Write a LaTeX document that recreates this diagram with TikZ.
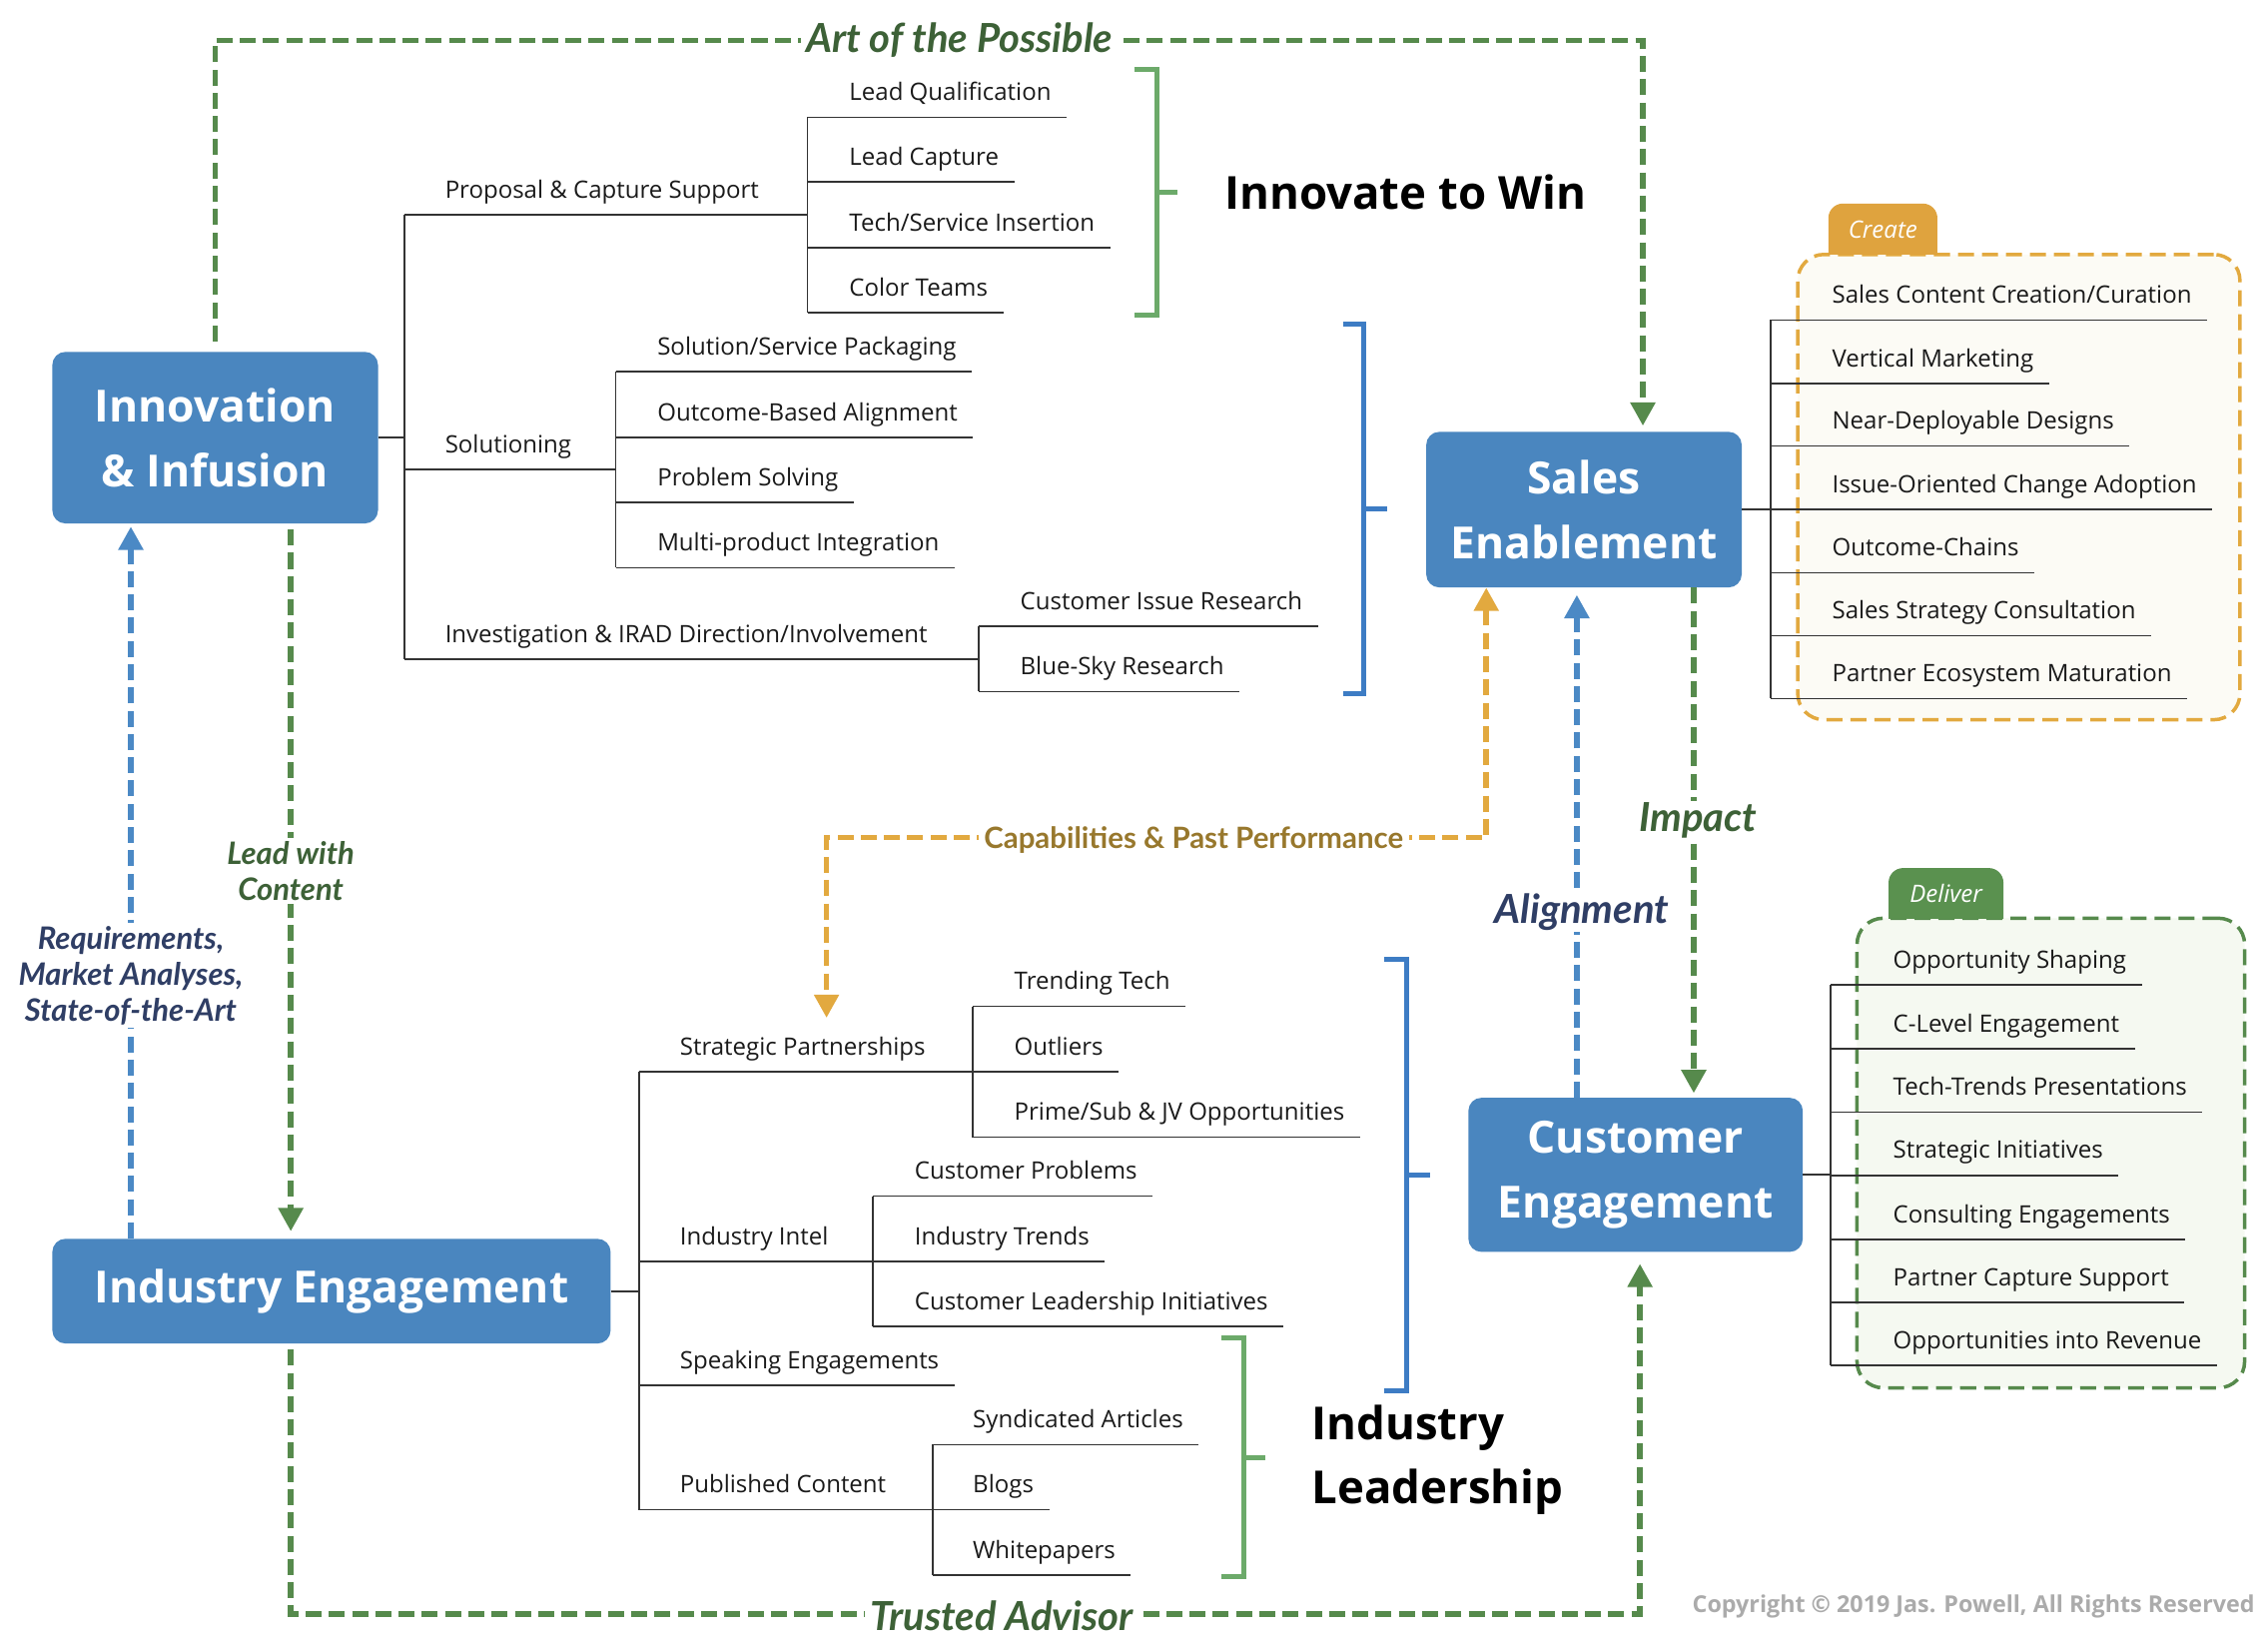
\documentclass[tikz,border=0pt]{standalone}
\usepackage{fontspec}
\setmainfont{Open Sans}
\newfontfamily\lblfont{Lato}
\usetikzlibrary{arrows.meta,calc}
\definecolor{boxblue}{HTML}{4A86BF}
\definecolor{conblue}{HTML}{4B89C5}
\definecolor{congreen}{HTML}{568A4C}
\definecolor{conorange}{HTML}{E2A93F}
\definecolor{lblgreen}{HTML}{3D6137}
\definecolor{lblnavy}{HTML}{2F3E65}
\definecolor{lblgold}{HTML}{98782D}
\definecolor{brgreen}{HTML}{6CAA6A}
\definecolor{brblue}{HTML}{3D7CC4}
\definecolor{treegray}{HTML}{333333}
\definecolor{tabgold}{HTML}{DFA33E}
\definecolor{tabgreen}{HTML}{5A914F}
\definecolor{panelcream}{HTML}{FCFBF5}
\definecolor{panelgreen}{HTML}{F5F9F1}
\definecolor{copygray}{HTML}{ABABAB}
\definecolor{txtblack}{HTML}{1A1A1A}

\newcommand\leafitem[5]{%
  \coordinate (#1-l) at (#2,#3);
  \node[leaf] (#1) at (#4,#3-11.5) {#5};
  \draw[tree] (#1-l) -- ($(#1-l -| #1.east)+(10.5,0)$);
}
\newcommand\branchitem[6]{%
  \coordinate (#1-l) at (#2,#3);
  \coordinate (#1-r) at (#6,#3);
  \node[leaf] (#1) at (#4,#3-11.5) {#5};
  \draw[tree] (#1-l) -- (#1-r);
}

\tikzset{
  box/.style={fill=boxblue, rounded corners=9pt, text=white, align=center, inner sep=0pt,
    font=\bfseries\fontsize{30.5}{44.5}\selectfont},
  leaf/.style={anchor=base west, inner sep=0pt, text=txtblack, font=\fontsize{16.5}{20}\selectfont},
  tree/.style={line width=1.1pt, draw=treegray},
  conn/.style={line width=3.8pt, dash pattern=on 11pt off 5pt},
  tipx/.tip={Triangle[width=16.5pt,length=16pt]},
  lbl/.style={font=\lblfont\bfseries\itshape\fontsize{27.5}{32}\selectfont, inner xsep=4pt, inner ysep=1pt, fill=white},
  smlbl/.style={font=\lblfont\bfseries\itshape\fontsize{21.3}{24.8}\selectfont, inner xsep=4pt, inner ysep=2pt, fill=white, align=center},
  bracket/.style={line width=3.5pt},
  bigtxt/.style={font=\bfseries\fontsize{31.3}{44.5}\selectfont, inner sep=0pt, align=left, text=black},
  panel/.style={rounded corners=18pt, line width=2.4pt, dash pattern=on 11pt off 5.5pt, inner sep=0pt},
  tabtxt/.style={text=white, font=\itshape\fontsize{16.5}{20}\selectfont, inner sep=0pt}
}

\begin{document}
\begin{tikzpicture}[x=1pt,y=-1pt]
\useasboundingbox (0,0) rectangle (1560,1132);

% ---------- panels ----------
\node[panel, draw=conorange, fill=panelcream, minimum width=304.2pt, minimum height=320pt] (createbox) at (1388.6,335) {};
\begin{scope}
  \clip (1250,130) rectangle (1340,175);
  \fill[tabgold, rounded corners=10pt] (1257.6,140) rectangle (1332.6,195);
\end{scope}
\node[tabtxt] (createtab) at (1295.1,158) {Create};

\node[panel, draw=congreen, fill=panelgreen, minimum width=266.6pt, minimum height=323pt] (deliverbox) at (1410.6,793) {};
\begin{scope}
  \clip (1290,590) rectangle (1390,631.5);
  \fill[tabgreen, rounded corners=10pt] (1299,597) rectangle (1378,650);
\end{scope}
\node[tabtxt] (delivertab) at (1338.5,614.5) {Deliver};

% ---------- main boxes ----------
\node[box, minimum width=224pt, minimum height=118pt] (innov) at (148,301) {Innovation\\\& Infusion};
\node[box, minimum width=217pt, minimum height=107pt] (sales) at (1089.5,350.5) {Sales\\Enablement};
\node[box, minimum width=230pt, minimum height=106pt] (cust) at (1125,808) {Customer\\Engagement};
\node[box, minimum width=384pt, minimum height=72pt] (indeng) at (228,888) {Industry Engagement};

% ---------- Innovation tree ----------
\coordinate (ij) at (278,301);
\draw[tree] (innov.east) -- (ij);
\branchitem{prop}{278}{147.6}{306}{Proposal \& Capture Support}{555.5}
\leafitem{lq}{555.5}{80.7}{584}{Lead Qualification}
\leafitem{lc}{555.5}{125.2}{584}{Lead Capture}
\leafitem{tsi}{555.5}{170.3}{584}{Tech/Service Insertion}
\leafitem{ct}{555.5}{215.1}{584}{Color Teams}
\draw[tree] (lq-l) -- (ct-l);

\branchitem{sol}{278}{323}{306}{Solutioning}{423.6}
\leafitem{ssp}{423.6}{255.5}{452}{Solution/Service Packaging}
\leafitem{oba}{423.6}{300.9}{452}{Outcome-Based Alignment}
\leafitem{ps}{423.6}{345.7}{452}{Problem Solving}
\leafitem{mpi}{423.6}{390.4}{452}{Multi-product Integration}
\draw[tree] (ssp-l) -- (mpi-l);

\branchitem{inv}{278}{453.5}{306}{Investigation \& IRAD Direction/Involvement}{673.2}
\leafitem{cir}{673.2}{430.8}{701.6}{Customer Issue Research}
\leafitem{bsr}{673.2}{475.6}{701.6}{Blue-Sky Research}
\draw[tree] (cir-l) -- (bsr-l);
\draw[tree] (prop-l) -- (inv-l);

% brackets top
\draw[bracket, brgreen] (780,48) -- (796,48) -- (796,217) -- (780,217);
\draw[bracket, brgreen] (796,132.5) -- (810,132.5);
\node[bigtxt, anchor=west] (itw) at (842,132) {Innovate to Win};
\draw[bracket, brblue] (924,223) -- (938,223) -- (938,477) -- (924,477);
\draw[bracket, brblue] (938,350) -- (954,350);

% ---------- Sales tree ----------
\coordinate (sj) at (1217.7,350.5);
\draw[tree] (sales.east) -- (sj);
\leafitem{s1}{1217.7}{220.1}{1260}{Sales Content Creation/Curation}
\leafitem{s2}{1217.7}{263.6}{1260}{Vertical Marketing}
\leafitem{s3}{1217.7}{306.7}{1260}{Near-Deployable Designs}
\leafitem{s4}{1217.7}{350.4}{1260}{Issue-Oriented Change Adoption}
\leafitem{s5}{1217.7}{393.9}{1260}{Outcome-Chains}
\leafitem{s6}{1217.7}{437.3}{1260}{Sales Strategy Consultation}
\leafitem{s7}{1217.7}{480.4}{1260}{Partner Ecosystem Maturation}
\draw[tree] (s1-l) -- (s7-l);

% ---------- Customer tree ----------
\coordinate (cj) at (1259.3,808);
\draw[tree] (cust.east) -- (cj);
\leafitem{c1}{1259.3}{677.4}{1302}{Opportunity Shaping}
\leafitem{c2}{1259.3}{721.1}{1302}{C-Level Engagement}
\leafitem{c3}{1259.3}{764.9}{1302}{Tech-Trends Presentations}
\leafitem{c4}{1259.3}{808.3}{1302}{Strategic Initiatives}
\leafitem{c5}{1259.3}{852.4}{1302}{Consulting Engagements}
\leafitem{c6}{1259.3}{895.8}{1302}{Partner Capture Support}
\leafitem{c7}{1259.3}{939.2}{1302}{Opportunities into Revenue}
\draw[tree] (c1-l) -- (c7-l);

% ---------- Industry tree ----------
\coordinate (dj) at (439.6,888);
\draw[tree] (indeng.east) -- (dj);
\branchitem{strat}{439.6}{737.1}{467.5}{Strategic Partnerships}{668.9}
\leafitem{tt}{668.9}{692.2}{697.5}{Trending Tech}
\leafitem{outl}{668.9}{737.1}{697.5}{Outliers}
\leafitem{psj}{668.9}{782.1}{697.5}{Prime/Sub \& JV Opportunities}
\draw[tree] (tt-l) -- (psj-l);

\branchitem{intel}{439.6}{867.5}{467.5}{Industry Intel}{600.3}
\leafitem{cp}{600.3}{822.6}{629}{Customer Problems}
\leafitem{it}{600.3}{867.5}{629}{Industry Trends}
\leafitem{cli}{600.3}{912.1}{629}{Customer Leadership Initiatives}
\draw[tree] (cp-l) -- (cli-l);

\leafitem{speak}{439.6}{952.6}{467.5}{Speaking Engagements}

\branchitem{pub}{439.6}{1038.4}{467.5}{Published Content}{641.6}
\leafitem{sa}{641.6}{993.5}{669}{Syndicated Articles}
\leafitem{blogs}{641.6}{1038.4}{669}{Blogs}
\leafitem{wp}{641.6}{1083.4}{669}{Whitepapers}
\draw[tree] (sa-l) -- (wp-l);
\draw[tree] (strat-l) -- (pub-l);

% brackets bottom
\draw[bracket, brblue] (952,660) -- (967.4,660) -- (967.4,956.3) -- (952,956.3);
\draw[bracket, brblue] (967.4,808.3) -- (983.5,808.3);
\draw[bracket, brgreen] (840,920.2) -- (855.6,920.2) -- (855.6,1084.5) -- (840,1084.5);
\draw[bracket, brgreen] (855.6,1002.7) -- (870.2,1002.7);
\node[bigtxt, anchor=west] (indlead) at (902,1004) {Industry\\Leadership};

% ---------- connectors ----------
\coordinate (tl) at (148,27.7);
\coordinate (tr) at (1130,27.7);
\draw[conn, congreen, -tipx, shorten <=7pt, shorten >=4pt] (innov.north) -- (tl) -- (tr) -- ([xshift=40.5pt]sales.north);
\node[lbl, text=lblgreen] (artlbl) at (660,27.5) {Art of the Possible};

\draw[conn, congreen, -tipx, shorten <=4pt, shorten >=5pt] ([xshift=52pt]innov.south) -- ([xshift=-28pt]indeng.north);
\node[smlbl, text=lblgreen] (leadlbl) at (200,599) {Lead with\\Content};

\draw[conn, conblue, -tipx, shorten >=2pt] ([xshift=-138pt]indeng.north) -- ([xshift=-58pt]innov.south);
\node[smlbl, text=lblnavy] (reqlbl) at (90,671) {Requirements,\\Market Analyses,\\State-of-the-Art};

\coordinate (oc1) at (1022.3,576);
\coordinate (oc2) at (568.5,576);
\coordinate (oc3) at (568.5,700);
\draw[conn, conorange, tipx-tipx] ([xshift=-67.2pt]sales.south) -- (oc1) -- (oc2) -- (oc3);
\node[smlbl, font=\lblfont\bfseries\fontsize{20.2}{24}\selectfont, text=lblgold, inner ysep=1pt] (caplbl) at (821,577.5) {Capabilities \& Past Performance};

\draw[conn, conblue, -tipx, shorten >=5pt] ([xshift=-40.4pt]cust.north) -- ([xshift=-4.9pt]sales.south);
\node[lbl, text=lblnavy] (alignlbl) at (1088,627) {Alignment};

\draw[conn, congreen, -tipx, shorten >=3pt] ([xshift=75.5pt]sales.south) -- ([xshift=40pt]cust.north);
\node[lbl, text=lblgreen] (implbl) at (1168,564) {Impact};

\coordinate (bl) at (200,1110);
\coordinate (br) at (1128,1110);
\draw[conn, congreen, -tipx, shorten <=4pt, shorten >=8pt] ([xshift=-28pt]indeng.south) -- (bl) -- (br) -- ([xshift=3pt]cust.south);
\node[lbl, text=lblgreen] (trustlbl) at (689,1111) {Trusted Advisor};

\node[anchor=east, inner sep=0pt, text=copygray, font=\bfseries\fontsize{16}{19}\selectfont] (copy) at (1551,1105) {Copyright © 2019 Jas. Powell, All Rights Reserved};
\end{tikzpicture}
\end{document}
